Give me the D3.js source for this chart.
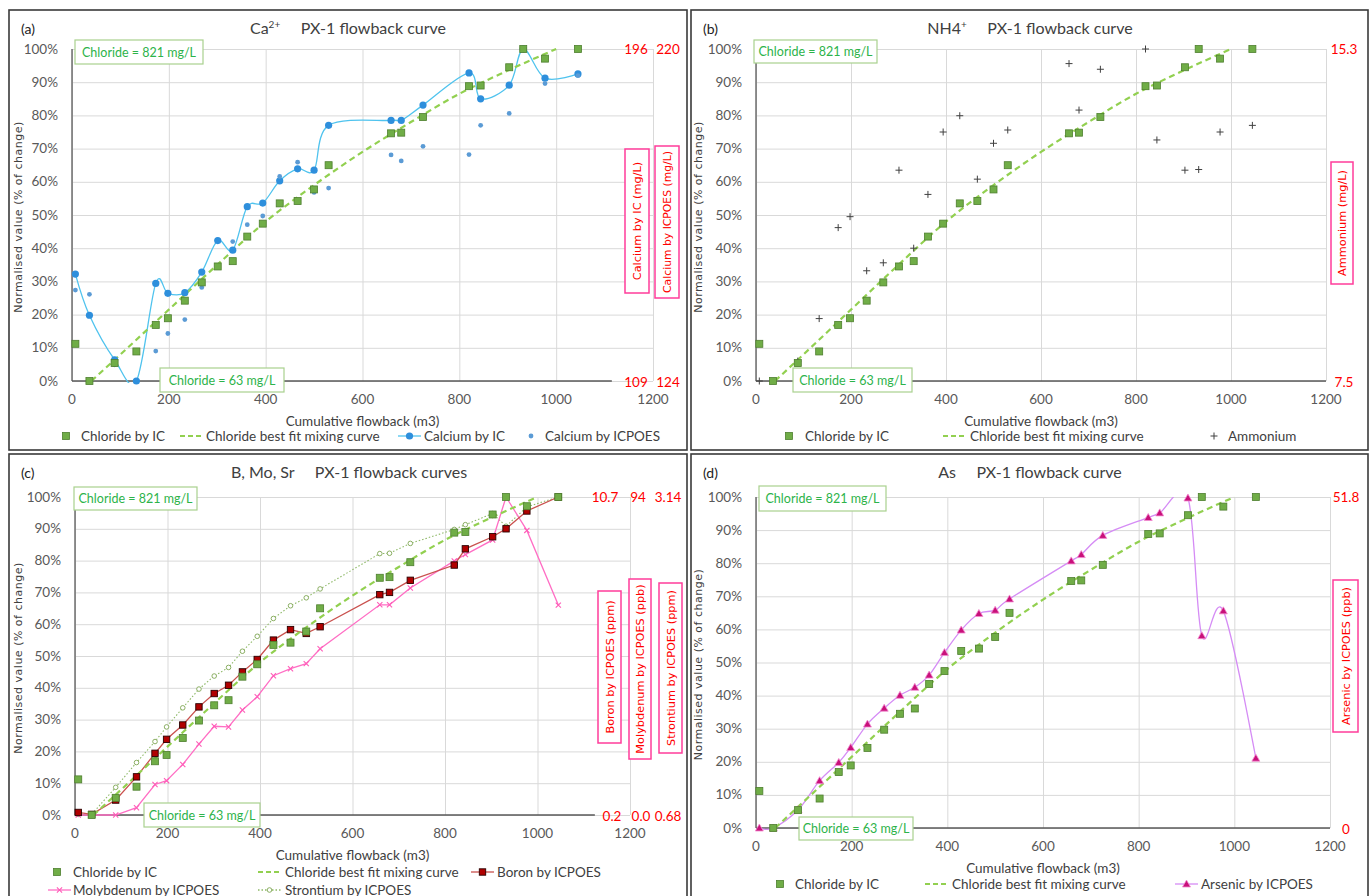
<!DOCTYPE html>
<html>
<head>
<meta charset="utf-8">
<script src="https://cdn.jsdelivr.net/npm/d3@7"></script>
<style>
  body { margin: 0; background: #fff; }
  svg { display: block; }
  text { font-family: Lato, "Liberation Sans", sans-serif; }
</style>
</head>
<body>
<svg id="chart" width="1371" height="896"></svg>
<script>
// ---- data ----
var flowback = [7, 36, 88, 133, 173, 198, 233, 268, 301, 332, 362, 394, 429, 466, 500, 530, 659, 680, 725, 820, 844, 903, 932, 977, 1045];
var chlorideIC = [11.2, 0, 5.4, 8.9, 16.9, 18.9, 24.2, 29.7, 34.5, 36.1, 43.5, 47.4, 53.5, 54.2, 57.7, 65.0, 74.6, 74.8, 79.5, 88.8, 89.0, 94.5, 100, 97.1, 100];
var mixX = [40, 100, 200, 300, 400, 500, 600, 700, 800, 900, 1000];
var mixY = [0, 8, 21.5, 35, 48, 59, 69, 78, 86.5, 93.5, 100];

var calciumIC = [32.2, 19.8, 6.4, 0, 29.4, 26.4, 26.6, 32.8, 42.3, 39.4, 52.5, 53.6, 60.3, 63.9, 63.5, 77.0, 78.5, 78.5, 83.1, 92.8, 85.0, 89.1, 100, 91.2, 92.5];
var calciumICPOES = [27.4, 26.1, 4.9, null, 9.0, 14.3, 18.5, 28.2, 34.4, 42.0, 47.1, 49.7, 61.6, 65.9, 56.8, 58.1, 68.1, 66.3, 70.7, 68.2, 77.0, 80.6, null, 89.6, 92.0];
var ammonium = [0, null, 6, 18.8, 46.2, 49.5, 33.2, 35.6, 63.5, 40, 56.2, 75, 79.9, 60.8, 71.6, 75.6, 95.6, 81.6, 93.9, 100, 72.6, 63.5, 63.7, 75, 77];
var boron = [0.8, 0.2, 4.7, 12, 19.4, 23.8, 28.3, 34, 38.2, 40.8, 45, 48.9, 55, 58.3, 57.1, 59.2, 69.3, 70, 73.8, 78.6, 83.7, 87.5, 90, 95.6, 100];
var molybdenum = [0, 0, 0, 2.3, 9.6, 10.8, 15.9, 22.3, 27.9, 27.7, 33, 37.2, 43.8, 46, 47.6, 52.3, 66.1, 66.1, 71.4, 79.9, 81.9, 86.5, 100, 89.5, 66];
var strontium = [0.2, 0.2, 8.7, 16.5, 23.1, 27.7, 33.7, 39.6, 43.7, 46.4, 51.5, 56.2, 61.8, 65.8, 68.3, 71.1, 82.2, 82.3, 85.4, 89.8, 91.3, 94.8, 90.8, 96.9, 100];
var arsenic = [0, 0, 5.5, 14.3, 19.8, 24.3, 31.4, 36.2, 40.1, 42.5, 46.2, 53, 59.8, 64.8, 65.8, 69.2, 80.7, 82.6, 88.4, 93.8, 95.2, 99.7, 58.1, 65.6, 21.1];

var xTicks = [0, 200, 400, 600, 800, 1000, 1200];
var yTicks = [0, 10, 20, 30, 40, 50, 60, 70, 80, 90, 100];
var rightTopA = ["196", "220"], rightBotA = ["109", "124"];
var rightTopB = ["15.3"], rightBotB = ["7.5"];
var rightTopC = ["10.7", "94", "3.14"], rightBotC = ["0.2", "0.0", "0.68"];
var rightTopD = ["51.8"], rightBotD = ["0"];
var chlorideHigh = "Chloride = 821 mg/L", chlorideLow = "Chloride = 63 mg/L";

var svg = d3.select("#chart");
var defs = svg.append("defs");

var GREEN = "#70AD47", GREEN_DK = "#4E7F2E", MIX = "#92D050";

function pts(vals) {
	var out = [];
	for (var i = 0; i < vals.length; i++) {
		if (vals[i] != null) out.push([flowback[i], vals[i]]);
	}
	return out;
}

function marker(g, type, cx, cy) {
	if (type == "square") {
		g.append("rect").attr("x", cx - 3.5).attr("y", cy - 3.5).attr("width", 7).attr("height", 7)
			.attr("fill", GREEN).attr("stroke", GREEN_DK).attr("stroke-width", 0.8);
	} else if (type == "boron") {
		g.append("rect").attr("x", cx - 3.2).attr("y", cy - 3.2).attr("width", 6.4).attr("height", 6.4)
			.attr("fill", "#B00000").attr("stroke", "#2a0000").attr("stroke-width", 0.9);
	} else if (type == "circle") {
		g.append("circle").attr("cx", cx).attr("cy", cy).attr("r", 3.6).attr("fill", "#2E8FDC");
	} else if (type == "dot") {
		g.append("circle").attr("cx", cx).attr("cy", cy).attr("r", 2.4).attr("fill", "#5B9BD5");
	} else if (type == "plus") {
		g.append("path").attr("d", "M" + (cx - 3.5) + "," + cy + "h7M" + cx + "," + (cy - 3.5) + "v7")
			.attr("stroke", "#404040").attr("stroke-width", 1);
	} else if (type == "cross") {
		g.append("path").attr("d", "M" + (cx - 2.6) + "," + (cy - 2.6) + "l5.2,5.2M" + (cx - 2.6) + "," + (cy + 2.6) + "l5.2,-5.2")
			.attr("stroke", "#FF5CB8").attr("stroke-width", 1.1);
	} else if (type == "ring") {
		g.append("circle").attr("cx", cx).attr("cy", cy).attr("r", 2.3).attr("fill", "#fff")
			.attr("stroke", "#7FA653").attr("stroke-width", 0.9);
	} else if (type == "triangle") {
		g.append("path").attr("d", "M" + cx + "," + (cy - 4) + "l4,7h-8z")
			.attr("fill", "#C8107A").attr("stroke", "#F28AD0").attr("stroke-width", 0.8);
	}
}

function drawPanel(p) {
	var g = svg.append("g");
	g.append("rect").attr("x", p.box[0]).attr("y", p.box[1]).attr("width", p.box[2]).attr("height", p.box[3])
		.attr("fill", "#fff").attr("stroke", "#3a3a3a").attr("stroke-width", 1.6);

	var x = d3.scaleLinear().domain([0, 1200]).range([p.x0, p.x1]);
	var y = d3.scaleLinear().domain([0, 100]).range([p.y0, p.y1]);

	// grid
	g.append("g").attr("transform", "translate(0," + p.y0 + ")")
		.call(d3.axisBottom(x).tickValues(xTicks).tickSize(-(p.y0 - p.y1)).tickFormat(""))
		.call(function(s) { s.select(".domain").remove(); s.selectAll("line").attr("stroke", "#D9D9D9"); });
	g.append("g").attr("transform", "translate(" + p.x0 + ",0)")
		.call(d3.axisLeft(y).tickValues(yTicks).tickSize(-(p.x1 - p.x0)).tickFormat(""))
		.call(function(s) { s.select(".domain").remove(); s.selectAll("line").attr("stroke", "#D9D9D9"); });

	// axes lines
	g.append("line").attr("x1", p.x0).attr("x2", x(p.axisEnd)).attr("y1", p.y0).attr("y2", p.y0)
		.attr("stroke", "#595959").attr("stroke-width", 1.3);
	g.append("line").attr("x1", p.x0).attr("x2", p.x0).attr("y1", p.y0).attr("y2", p.y1)
		.attr("stroke", "#595959").attr("stroke-width", 1.3);

	// tick labels
	g.selectAll(".xt").data(xTicks).enter().append("text")
		.attr("x", function(d) { return x(d); }).attr("y", p.y0 + 23)
		.attr("text-anchor", "middle").attr("font-size", 13.5).attr("fill", "#595959").text(function(d) { return d; });
	g.selectAll(".yt").data(yTicks).enter().append("text")
		.attr("x", p.x0 - 14).attr("y", function(d) { return y(d) + 4.5; })
		.attr("text-anchor", "end").attr("font-size", 13.5).attr("fill", "#595959").text(function(d) { return d + "%"; });

	// axis titles
	g.append("text").attr("x", (p.x0 + p.x1) / 2).attr("y", p.y0 + 45).attr("text-anchor", "middle")
		.attr("font-size", 13.5).attr("fill", "#404040").text("Cumulative flowback (m3)");
	g.append("text").attr("transform", "translate(" + p.ytx + "," + ((p.y0 + p.y1) / 2 + 2) + ") rotate(-90)")
		.attr("text-anchor", "middle").attr("font-size", 11).attr("letter-spacing", 0.5)
		.style("font-family", "'DejaVu Sans', Verdana, sans-serif").attr("fill", "#404040")
		.text("Normalised value (% of change)");

	// panel label + title
	g.append("text").attr("x", p.box[0] + 12).attr("y", p.box[1] + 24).attr("font-size", 14).attr("fill", "#222").text(p.tag);
	var t = g.append("text").attr("x", p.titleX).attr("y", p.box[1] + 24).attr("text-anchor", "middle")
		.attr("font-size", 16).attr("fill", "#404040").style("white-space", "pre");
	t.append("tspan").text(p.title[0]);
	if (p.title[1]) t.append("tspan").attr("font-size", 10).attr("dy", -6).text(p.title[1]);
	t.append("tspan").attr("dy", p.title[1] ? 6 : 0).text("     " + p.title[2]);

	// clip for lines
	var cid = "clip" + p.tag.replace(/\W/g, "");
	defs.append("clipPath").attr("id", cid).append("rect")
		.attr("x", p.x0).attr("y", p.y1).attr("width", p.x1 - p.x0).attr("height", p.y0 - p.y1 + 2);

	var mix = d3.zip(mixX, mixY);

	p.series.forEach(function(s) {
		if (s.line) {
			var ln = d3.line().x(function(d) { return x(d[0]); }).y(function(d) { return y(d[1]); })
				.curve(s.smooth ? d3.curveCardinal.tension(0) : d3.curveLinear);
			g.append("path").attr("d", ln(pts(s.values))).attr("fill", "none")
				.attr("stroke", s.line).attr("stroke-width", s.width || 1.3)
				.attr("stroke-dasharray", s.dash || null).attr("clip-path", "url(#" + cid + ")");
		}
	});
	var mixLine = d3.line().x(function(d) { return x(d[0]); }).y(function(d) { return y(d[1]); })
		.curve(d3.curveMonotoneX);
	g.append("path").attr("d", mixLine(mix)).attr("fill", "none")
		.attr("stroke", MIX).attr("stroke-width", 2.2).attr("stroke-dasharray", "6,4");

	p.series.forEach(function(s) {
		if (!s.marker) return;
		pts(s.values).forEach(function(d) { marker(g, s.marker, x(d[0]), y(d[1])); });
	});
	pts(chlorideIC).forEach(function(d) { marker(g, "square", x(d[0]), y(d[1])); });

	// chloride boxes
	[[p.hiBox, chlorideHigh], [p.loBox, chlorideLow]].forEach(function(b) {
		var r = b[0];
		g.append("rect").attr("x", r[0]).attr("y", r[1]).attr("width", r[2]).attr("height", r[3])
			.attr("fill", "#fff").attr("stroke", "#A9D18E").attr("stroke-width", 1.2);
		g.append("text").attr("x", r[0] + r[2] / 2).attr("y", r[1] + r[3] / 2 + 4.5)
			.attr("text-anchor", "middle").attr("font-size", 12.5).attr("fill", "#2DB34A").text(b[1]);
	});

	// right-hand scale labels
	p.rightTop.forEach(function(v, i) {
		g.append("text").attr("x", p.rightX[i]).attr("y", p.y1 + 5).attr("text-anchor", "middle")
			.attr("font-size", 13.5).attr("fill", "#FF0000").text(v);
	});
	p.rightBot.forEach(function(v, i) {
		g.append("text").attr("x", p.rightX[i] + (p.rightBotDx ? p.rightBotDx[i] : 0)).attr("y", p.y0 + 6).attr("text-anchor", "middle")
			.attr("font-size", 13.5).attr("fill", "#FF0000").text(v);
	});
	p.redBoxes.forEach(function(b) {
		g.append("rect").attr("x", b.x).attr("y", b.y).attr("width", b.w).attr("height", b.h)
			.attr("fill", "#fff").attr("stroke", "#FF3C9A").attr("stroke-width", 1.5);
		var rt = g.append("text").attr("transform", "translate(" + (b.x + b.w / 2 + 4) + "," + (b.y + b.h / 2) + ") rotate(-90)")
			.attr("text-anchor", "middle").attr("font-size", 11.3)
			.style("font-family", "'DejaVu Sans', Verdana, sans-serif").attr("fill", "#FF0000").text(b.text);
		// shrink to fit the box
		var len = rt.node().getComputedTextLength();
		if (len > b.h - 10) rt.attr("font-size", 11.3 * (b.h - 10) / len);
	});

	// legend
	p.legend.forEach(function(l) {
		var ly = l.y;
		if (l.kind == "square") marker(g, "square", l.x, ly);
		else if (l.kind == "mix") g.append("line").attr("x1", l.x).attr("x2", l.x + 23).attr("y1", ly).attr("y2", ly)
			.attr("stroke", MIX).attr("stroke-width", 2).attr("stroke-dasharray", "5,3");
		else if (l.kind == "plus" || l.kind == "dot") marker(g, l.kind, l.x, ly);
		else {
			g.append("line").attr("x1", l.x).attr("x2", l.x + 23).attr("y1", ly).attr("y2", ly)
				.attr("stroke", l.line).attr("stroke-width", 1.3).attr("stroke-dasharray", l.dash || null);
			marker(g, l.kind, l.x + 11.5, ly);
		}
		g.append("text").attr("x", l.tx).attr("y", ly + 4.5).attr("font-size", 13.5).attr("fill", "#404040").text(l.text);
	});
}

drawPanel({
	tag: "(a)", box: [9, 10, 678, 440], x0: 72, x1: 653, y0: 381, y1: 49, axisEnd: 1115, ytx: 22, titleX: 348,
	title: ["Ca", "2+", "PX-1 flowback curve"],
	series: [
		{ values: calciumIC, line: "#4FC3EE", smooth: true, marker: "circle" },
		{ values: calciumICPOES, marker: "dot" }
	],
	hiBox: [75, 40, 128, 24], loBox: [160, 368, 124, 24],
	rightTop: rightTopA, rightBot: rightBotA, rightX: [636, 668],
	redBoxes: [
		{ x: 625, y: 149, w: 24, h: 144, text: "Calcium by IC (mg/L)" },
		{ x: 655, y: 146, w: 24, h: 152, text: "Calcium by ICPOES (mg/L)" }
	],
	legend: [
		{ kind: "square", x: 66, tx: 81, y: 436, text: "Chloride by IC" },
		{ kind: "mix", x: 180, tx: 206, y: 436, text: "Chloride best fit mixing curve" },
		{ kind: "circle", line: "#4FC3EE", x: 398, tx: 424, y: 436, text: "Calcium by IC" },
		{ kind: "dot", x: 531, tx: 545, y: 436, text: "Calcium by ICPOES" }
	]
});

drawPanel({
	tag: "(b)", box: [691, 10, 677, 440], x0: 756, x1: 1326, y0: 381, y1: 49, axisEnd: 1200, ytx: 702, titleX: 1030,
	title: ["NH4", "+", "PX-1 flowback curve"],
	series: [
		{ values: ammonium, marker: "plus" }
	],
	hiBox: [754, 40, 123, 23], loBox: [793, 368, 119, 24],
	rightTop: rightTopB, rightBot: rightBotB, rightX: [1344],
	redBoxes: [
		{ x: 1331, y: 162, w: 22, h: 122, text: "Ammonium (mg/L)" }
	],
	legend: [
		{ kind: "square", x: 789, tx: 805, y: 436, text: "Chloride by IC" },
		{ kind: "mix", x: 943, tx: 970, y: 436, text: "Chloride best fit mixing curve" },
		{ kind: "plus", x: 1214, tx: 1228, y: 436, text: "Ammonium" }
	]
});

drawPanel({
	tag: "(c)", box: [9, 454, 678, 450], x0: 75, x1: 630, y0: 815, y1: 497, axisEnd: 1124, ytx: 22, titleX: 349,
	title: ["B, Mo, Sr", null, "PX-1 flowback curves"],
	series: [
		{ values: strontium, line: "#8DB866", dash: "1.5,2", width: 1.1, marker: "ring" },
		{ values: molybdenum, line: "#FF6EC4", marker: "cross" },
		{ values: boron, line: "#C9514E", marker: "boron" }
	],
	hiBox: [74, 487, 123, 23], loBox: [144, 803, 116, 24],
	rightTop: rightTopC, rightBot: rightBotC, rightX: [605, 638, 668], rightBotDx: [7, 3, 0],
	redBoxes: [
		{ x: 598, y: 591, w: 23, h: 152, text: "Boron by ICPOES (ppm)" },
		{ x: 629, y: 579, w: 22, h: 180, text: "Molybdenum by ICPOES (ppb)" },
		{ x: 659, y: 583, w: 23, h: 170, text: "Strontium by ICPOES (ppm)" }
	],
	legend: [
		{ kind: "square", x: 57, tx: 73, y: 872, text: "Chloride by IC" },
		{ kind: "mix", x: 258, tx: 285, y: 872, text: "Chloride best fit mixing curve" },
		{ kind: "boron", line: "#C9514E", x: 471, tx: 497, y: 872, text: "Boron by ICPOES" },
		{ kind: "cross", line: "#FF6EC4", x: 48, tx: 73, y: 890, text: "Molybdenum by ICPOES" },
		{ kind: "ring", line: "#8DB866", dash: "1.5,2", x: 258, tx: 285, y: 890, text: "Strontium by ICPOES" }
	]
});

drawPanel({
	tag: "(d)", box: [691, 454, 677, 450], x0: 756, x1: 1330, y0: 828, y1: 497, axisEnd: 1200, ytx: 702, titleX: 1030,
	title: ["As", null, "PX-1 flowback curve"],
	series: [
		{ values: arsenic, line: "#D58CF5", smooth: true, marker: "triangle" }
	],
	hiBox: [759, 486, 127, 25], loBox: [799, 817, 114, 23],
	rightTop: rightTopD, rightBot: rightBotD, rightX: [1346],
	redBoxes: [
		{ x: 1333, y: 580, w: 25, h: 152, text: "Arsenic by ICPOES (ppb)" }
	],
	legend: [
		{ kind: "square", x: 780, tx: 795, y: 884, text: "Chloride by IC" },
		{ kind: "mix", x: 925, tx: 952, y: 884, text: "Chloride best fit mixing curve" },
		{ kind: "triangle", line: "#D58CF5", x: 1175, tx: 1201, y: 884, text: "Arsenic by ICPOES" }
	]
});
</script>
</body>
</html>
